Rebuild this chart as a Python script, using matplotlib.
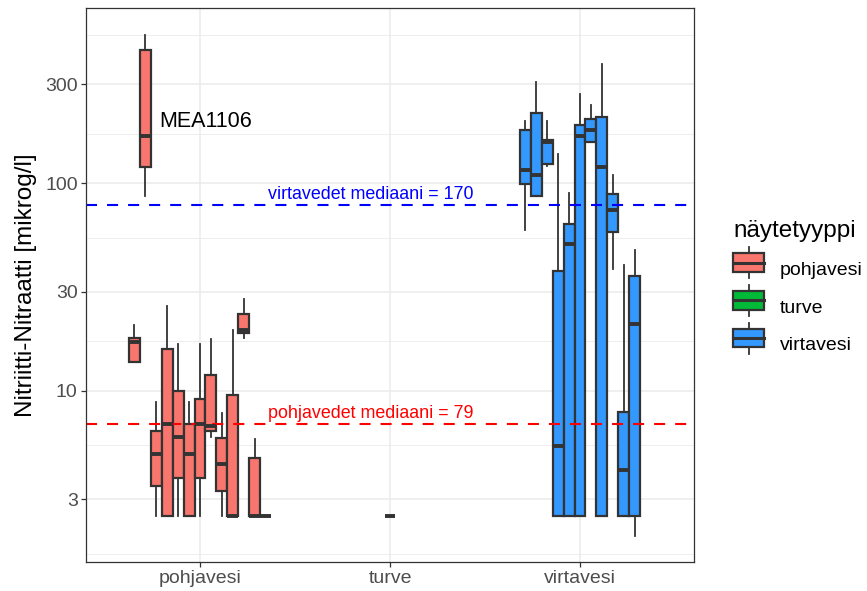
import numpy as np
import matplotlib
matplotlib.use('Agg')
import matplotlib.pyplot as plt
from matplotlib.legend_handler import HandlerBase
from matplotlib.lines import Line2D
from matplotlib.patches import Rectangle, Patch
from matplotlib.ticker import FixedLocator, NullFormatter

plt.rcParams['font.family'] = ['Liberation Sans', 'DejaVu Sans']

categories = ['pohjavesi', 'turve', 'virtavesi']
colors = {'pohjavesi': '#F8766D', 'turve': '#00BA38', 'virtavesi': '#3399FF'}

# box stats, one entry per dodged box
pohja_lo = [13.8, 86.9, 2.5, 2.5, 2.5, 2.5, 2.5, 6.0, 2.5, 2.5, 17.9, 2.5, 2.5]
pohja_q1 = [13.8, 120, 3.47, 2.5, 3.82, 2.5, 3.82, 6.4, 3.29, 2.5, 18.9, 2.5, 2.5]
pohja_med = [17.1, 170, 4.94, 6.9, 5.99, 4.94, 6.9, 6.8, 4.42, 2.5, 19.6, 2.5, 2.5]
pohja_q3 = [17.9, 441, 6.4, 15.9, 10.0, 6.9, 9.1, 11.9, 5.93, 9.52, 23.4, 4.77, 2.5]
pohja_hi = [20.7, 516, 8.83, 25.6, 16.9, 8.83, 16.9, 17.7, 7.85, 19.7, 27.6, 5.89, 2.5]

turve_lo = [2.5]
turve_q1 = [2.5]
turve_med = [2.5]
turve_q3 = [2.5]
turve_hi = [2.5]

virta_lo = [59.8, 86.6, 121, 2.5, 2.5, 2.5, 159, 2.5, 38.8, 2.5, 1.99]
virta_q1 = [99.7, 86.6, 124, 2.5, 2.5, 2.5, 159, 2.5, 58.3, 2.5, 2.5]
virta_med = [115.5, 110, 159, 5.42, 51.2, 170, 180, 120, 74.1, 4.14, 20.9]
virta_q3 = [181, 219, 161, 37.9, 63.4, 190, 205, 209, 89.2, 7.91, 35.6]
virta_hi = [199, 308, 199, 139, 90.2, 269, 239, 378, 109.3, 40.6, 47.6]

virta_median_line = 79
pohja_median_line = 6.9
virta_label = 'virtavedet mediaani = 170'
pohja_label = 'pohjavedet mediaani = 79'
outlier_site = 'MEA1106'

y_breaks = [3, 10, 30, 100, 300]

EDGE = '#333333'
n_slots = 13
slot_w = 0.75 / n_slots

groups = {
    'pohjavesi': (pohja_lo, pohja_q1, pohja_med, pohja_q3, pohja_hi),
    'turve': (turve_lo, turve_q1, turve_med, turve_q3, turve_hi),
    'virtavesi': (virta_lo, virta_q1, virta_med, virta_q3, virta_hi),
}

fig = plt.figure(figsize=(8.67, 5.91), dpi=100)
ax = fig.add_axes([86 / 867, 1 - 562 / 591, 608 / 867, 554 / 591])

positions_of = {}
for i, cat in enumerate(categories):
    lo, q1, med, q3, hi = groups[cat]
    k = len(med)
    offset = (n_slots - k) / 2
    pos = [i + 1 - 0.375 + slot_w * (offset + j + 0.5) for j in range(k)]
    positions_of[cat] = pos
    stats = [dict(whislo=a, q1=b, med=c, q3=d, whishi=e, fliers=[])
             for a, b, c, d, e in zip(lo, q1, med, q3, hi)]
    ax.bxp(stats, positions=pos, widths=slot_w, patch_artist=True,
           showcaps=False, showfliers=False, manage_ticks=False,
           boxprops=dict(facecolor=colors[cat], edgecolor=EDGE, linewidth=1.6),
           medianprops=dict(color=EDGE, linewidth=2.8, solid_capstyle='butt'),
           whiskerprops=dict(color=EDGE, linewidth=1.3))

# reference lines
ax.axhline(virta_median_line, color='#0000FF', lw=1.5, dashes=(5.3, 4.8))
ax.axhline(pohja_median_line, color='#FF0000', lw=1.5, dashes=(5.3, 4.8))
ax.annotate(virta_label, (1.9, virta_median_line), xytext=(0, 4.3),
            textcoords='offset points', ha='center', va='baseline',
            color='#0000FF', fontsize=12.9)
ax.annotate(pohja_label, (1.9, pohja_median_line), xytext=(0, 4.3),
            textcoords='offset points', ha='center', va='baseline',
            color='#FF0000', fontsize=12.9)

# label for the high groundwater site
mea_idx = int(np.argmax(pohja_med))
mea_x = positions_of['pohjavesi'][mea_idx] + slot_w / 2
ax.annotate(outlier_site, (mea_x, pohja_med[mea_idx]), xytext=(6.5, 10),
            textcoords='offset points', ha='left', va='center',
            color='black', fontsize=15.5)

# axes
ax.set_yscale('log')
log_lo, log_hi = 0.175, 2.845
ax.set_ylim(10 ** log_lo, 10 ** log_hi)
ax.set_xlim(0.4, 3.6)

lb = np.log10(y_breaks)
mids = (lb[:-1] + lb[1:]) / 2
minor = np.concatenate([[lb[0] - (lb[1] - lb[0]) / 2], mids, [lb[-1] + (lb[-1] - lb[-2]) / 2]])
ax.yaxis.set_major_locator(FixedLocator(y_breaks))
ax.yaxis.set_minor_locator(FixedLocator(10 ** minor))
ax.yaxis.set_minor_formatter(NullFormatter())
ax.set_yticklabels([str(b) for b in y_breaks])
ax.set_xticks([1, 2, 3])
ax.set_xticklabels(categories)

ax.set_axisbelow(True)
ax.grid(True, which='major', color='#EBEBEB', lw=1.1)
ax.grid(True, which='minor', axis='y', color='#EBEBEB', lw=0.6)
ax.tick_params(which='major', length=3.5, width=0.9, color=EDGE,
               labelcolor='#4D4D4D', labelsize=14, pad=2.5)
ax.tick_params(which='minor', length=0)
for s in ax.spines.values():
    s.set_color(EDGE)
    s.set_linewidth(0.9)

ax.set_ylabel('Nitriitti-Nitraatti [mikrog/l]', fontsize=17.5, labelpad=6)


class BoxKey(HandlerBase):
    def create_artists(self, legend, orig, xd, yd, w, h, fs, trans):
        cx = xd + w / 2
        whisk = Line2D([cx, cx], [yd - h * 0.32, yd + h * 1.32], color=EDGE,
                       lw=1.3, transform=trans)
        box = Rectangle((xd, yd), w, h, facecolor=orig.get_facecolor(),
                        edgecolor=EDGE, lw=1.6, transform=trans)
        med = Line2D([xd, xd + w], [yd + h / 2] * 2, color=EDGE, lw=2.2,
                     transform=trans)
        return [whisk, box, med]


handles = [Patch(facecolor=colors[c]) for c in categories]
leg = fig.legend(handles, categories, handler_map={Patch: BoxKey()},
                 loc='center left', bbox_to_anchor=(733 / 867, 1 - 287 / 591),
                 frameon=False, title='näytetyyppi', alignment='left',
                 fontsize=14, title_fontsize=17.5, handlelength=1.6,
                 handleheight=1.12, handletextpad=0.8, labelspacing=0.9,
                 borderpad=0, borderaxespad=0)

fig.savefig('out.png', dpi=100)
